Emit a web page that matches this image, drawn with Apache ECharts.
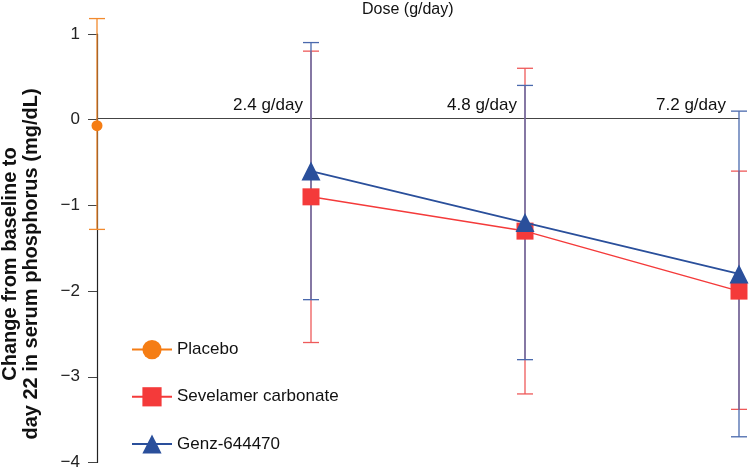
<!DOCTYPE html>
<html>
<head>
<meta charset="utf-8">
<script src="https://cdn.jsdelivr.net/npm/echarts@6/dist/echarts.min.js"></script>
<style>
  html, body { margin: 0; padding: 0; background: #fff; }
  #chart { width: 749px; height: 471px; }
</style>
</head>
<body>
<div id="chart"></div>
<script>
// doses along the top axis
var categories = ["Placebo", "2.4 g/day", "4.8 g/day", "7.2 g/day"];

// Placebo
var placeboMean = [-0.07, null, null, null];
var placeboLow = [-1.28, null, null, null];
var placeboHigh = [1.18, null, null, null];

// Sevelamer carbonate
var sevMean = [null, -0.9, -1.3, -2.0];
var sevLow = [null, -2.6, -3.2, -3.38];
var sevHigh = [null, 0.8, 0.6, -0.6];

// Genz-644470
var genzMean = [null, -0.6, -1.2, -1.8];
var genzLow = [null, -2.1, -2.8, -3.7];
var genzHigh = [null, 0.9, 0.4, 0.1];

var yTicks = [-4, -3, -2, -1, 0, 1];

var FONT = "'Liberation Sans', Arial, sans-serif";

// plot area: top 34, bottom 464 -> the zero line sits 344px above the bottom
var gridTop = 34, gridBottom = 7, chartH = 471;
var plotH = chartH - gridTop - gridBottom;
var zeroOffset = plotH * (0 - yTicks[0]) / (yTicks[yTicks.length - 1] - yTicks[0]);

function errData(low, high) {
    var out = [];
    for (var i = 0; i < low.length; i++) {
        if (low[i] != null) out.push([i, low[i], high[i]]);
    }
    return out;
}

function errBar(color) {
    return function (params, api) {
        var top = api.coord([api.value(0), api.value(2)]);
        var bot = api.coord([api.value(0), api.value(1)]);
        var w = 8;
        var st = { stroke: color, lineWidth: 1.3 };
        return {
            type: "group",
            children: [
                { type: "line", shape: { x1: top[0], y1: top[1], x2: bot[0], y2: bot[1] }, style: st },
                { type: "line", shape: { x1: top[0] - w, y1: top[1], x2: top[0] + w, y2: top[1] }, style: st },
                { type: "line", shape: { x1: bot[0] - w, y1: bot[1], x2: bot[0] + w, y2: bot[1] }, style: st }
            ]
        };
    };
}

var chart = echarts.init(document.getElementById("chart"));
chart.setOption({
    animation: false,
    textStyle: { fontFamily: FONT },
    grid: { left: 97, right: 10, top: gridTop, bottom: gridBottom },
    graphic: [
        {
            type: "text",
            left: 362,
            top: 2,
            style: { text: "Dose (g/day)", font: "16px " + FONT, fill: "#111" }
        },
        {
            type: "text",
            x: 21,
            y: 264,
            rotation: Math.PI / 2,
            style: {
                text: "Change from baseline to\nday 22 in serum phosphorus (mg/dL)",
                font: "bold 20px " + FONT,
                fill: "#111",
                textAlign: "center",
                textVerticalAlign: "middle",
                lineHeight: 21
            }
        }
    ],
    legend: {
        orient: "vertical",
        left: 126,
        top: 335,
        itemWidth: 40,
        itemHeight: 24,
        itemGap: 28,
        textStyle: { fontSize: 17, color: "#111", fontFamily: FONT },
        data: ["Placebo", "Sevelamer carbonate", "Genz-644470"]
    },
    xAxis: {
        type: "category",
        data: categories,
        boundaryGap: false,
        offset: -zeroOffset,
        axisLine: { onZero: false, lineStyle: { color: "#444", width: 1.2 } },
        axisTick: { show: false },
        axisLabel: {
            inside: true,
            margin: 5,
            align: "right",
            interval: 0,
            fontSize: 17,
            color: "#111",
            formatter: function (v, i) {
                if (i === 0) return "";
                if (i === categories.length - 1) return "{last|" + v + "}";
                return "{n|" + v + "}";
            },
            rich: {
                n: { fontSize: 17, color: "#111", padding: [0, 8, 0, 0] },
                last: { fontSize: 17, color: "#111", padding: [0, 13, 0, 0] }
            }
        },
        splitLine: { show: false }
    },
    yAxis: {
        type: "value",
        min: yTicks[0],
        max: yTicks[yTicks.length - 1],
        interval: 1,
        axisLine: { show: true, lineStyle: { color: "#222", width: 1.2 } },
        axisTick: { show: true, length: 9, lineStyle: { color: "#444" } },
        axisLabel: {
            margin: 17,
            fontSize: 17,
            color: "#222",
            formatter: function (v) { return String(v).replace("-", "\u2212"); }
        },
        splitLine: { show: false }
    },
    series: [
        {
            name: "Placebo err",
            type: "custom",
            renderItem: errBar("#f28a2e"),
            data: errData(placeboLow, placeboHigh),
            clip: false,
            z: 3
        },
        {
            name: "Sevelamer err",
            type: "custom",
            renderItem: errBar("#ee5a5a"),
            data: errData(sevLow, sevHigh),
            clip: false,
            z: 3
        },
        {
            name: "Genz err",
            type: "custom",
            renderItem: errBar("#4a69ad"),
            data: errData(genzLow, genzHigh),
            clip: false,
            z: 3
        },
        {
            name: "Placebo",
            type: "line",
            data: placeboMean,
            symbol: "circle",
            symbolSize: 11,
            color: "#f57d14",
            lineStyle: { width: 1.3 },
            z: 5
        },
        {
            name: "Sevelamer carbonate",
            type: "line",
            data: sevMean,
            symbol: "rect",
            symbolSize: 17,
            color: "#f43a3a",
            lineStyle: { width: 1.5 },
            z: 5
        },
        {
            name: "Genz-644470",
            type: "line",
            data: genzMean,
            symbol: "triangle",
            symbolSize: 19,
            color: "#2a4f9b",
            lineStyle: { width: 1.8 },
            z: 6
        }
    ]
});
</script>
</body>
</html>
